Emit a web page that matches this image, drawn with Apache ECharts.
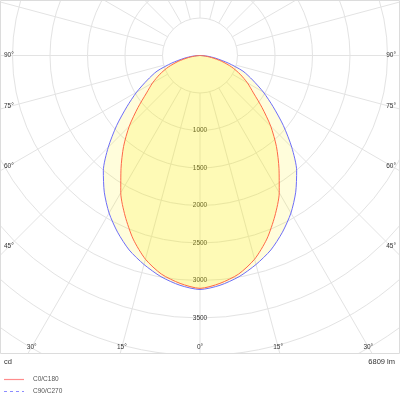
<!DOCTYPE html>
<html>
<head>
<meta charset="utf-8">
<script src="https://cdn.jsdelivr.net/npm/echarts@6/dist/echarts.min.js"></script>
<style>html,body{margin:0;padding:0;background:#fff}#c{width:400px;height:400px}</style>
</head>
<body>
<div id="c"></div>
<script>
// ---- data (angle from nadir in degrees, intensity in cd) ----
const gammaAngles = [0,5,10,15,20,25,30,35,40,45,50,55,60,65,70,75,80,85,90];
const c0c180 =  [3105,3050,2960,2812,2605,2362,2113,1836,1586,1334,1080,870,730,590,450,300,155,50,0];
const c90c270 = [3120,3075,2995,2885,2760,2600,2425,2225,2005,1730,1450,1190,975,775,610,390,215,95,0];
const radiusLabels = [1000,1500,2000,2500,3000,3500];
const angleTickLabels = [0,15,30,45,60,75,90];
const seriesNames = ['C0/C180','C90/C270'];
const unitText = 'cd';
const fluxText = '6809 lm';

// ---- layout ----
const CX = 200, CY = 55.5, R_MAX_CD = 5000, R_MAX_PX = 375, R_MIN_CD = 500;
const R_MIN_PX = R_MAX_PX * R_MIN_CD / R_MAX_CD;
const FONT = 'Liberation Sans, Arial, sans-serif';

function closedCurve(vals){
  const pts = [[0,180]];
  for (let i = vals.length-1; i >= 1; i--) pts.push([vals[i], 360 - gammaAngles[i]]);
  pts.push([vals[0], 0]);
  for (let i = 1; i < vals.length; i++) pts.push([vals[i], gammaAngles[i]]);
  pts.push([0,180]);
  return pts;
}

// angle labels placed where the radial rays meet the frame
const angleLabelEls = [];
angleTickLabels.forEach(a => {
  const sides = a === 0 ? [1] : [-1, 1];
  sides.forEach(s => {
    const rad = a*Math.PI/180;
    const dx = s*Math.sin(rad), dy = Math.cos(rad);
    const tSide = Math.abs(dx) > 1e-9 ? (CX - 9)/Math.abs(dx) : Infinity;
    const tBot = dy > 1e-9 ? (347 - CY)/dy : Infinity;
    const t = Math.min(tSide, tBot);
    let x = CX + t*dx, y = CY + t*dy, align = 'center';
    if (tSide < tBot) { x = s < 0 ? 4 : 396; align = s < 0 ? 'left' : 'right'; }
    angleLabelEls.push({type:'text', z:60, style:{text: a + '°', x, y, align, verticalAlign:'middle', fill:'#333', font:'6.5px ' + FONT}});
  });
});

// legend (drawn as decorations)
const legendStyles = [
  {color:'#ff8c8c', dash:null},
  {color:'#8c8cff', dash:[3,3]}
];
const legendEls = [];
seriesNames.forEach((n, i) => {
  const y = 379.5 + i*12;
  legendEls.push({type:'line', z:60, silent:true, shape:{x1:4, y1:y, x2:24, y2:y},
    style:{stroke:legendStyles[i].color, lineWidth:1.2, lineDash:legendStyles[i].dash}});
  legendEls.push({type:'text', z:60, silent:true, style:{text:n, x:33, y:y, verticalAlign:'middle', fill:'#555', font:'6.5px ' + FONT}});
});

const chart = echarts.init(document.getElementById('c'), null, {renderer:'canvas'});
chart.setOption({
  animation:false,
  backgroundColor:'#fff',
  polar:[
    {center:[CX,CY], radius:[R_MIN_PX, R_MAX_PX]},
    {center:[CX,CY], radius:[0, R_MAX_PX]}
  ],
  angleAxis:[
    {polarIndex:0, type:'value', min:0, max:360, interval:15, startAngle:270, clockwise:true,
     axisLine:{show:false}, axisTick:{show:false}, axisLabel:{show:false},
     splitLine:{show:true, lineStyle:{color:'#e3e3e3', width:1}}},
    {polarIndex:1, type:'value', min:0, max:360, startAngle:270, clockwise:true, show:false}
  ],
  radiusAxis:[
    {polarIndex:0, type:'value', min:R_MIN_CD, max:R_MAX_CD, interval:500,
     axisLine:{show:false}, axisTick:{show:false},
     splitLine:{show:true, lineStyle:{color:'#e3e3e3', width:1}},
     axisLabel:{show:true, margin:0, align:'center', verticalAlign:'middle', color:'#333', fontSize:6.5, fontFamily:FONT,
       formatter: v => radiusLabels.includes(v) ? String(v) : ''}},
    {polarIndex:1, type:'value', min:0, max:R_MAX_CD, show:false}
  ],
  series:[
    {name:seriesNames[1], type:'line', coordinateSystem:'polar', polarIndex:1, data:closedCurve(c90c270),
     symbol:'none', smooth:0.25, lineStyle:{color:'#6e6ef8', width:1},
     itemStyle:{color:'#9a9aff'}, areaStyle:{color:'rgba(255,238,0,0.2)'}, z:2},
    {name:seriesNames[0], type:'line', coordinateSystem:'polar', polarIndex:1, data:closedCurve(c0c180),
     symbol:'none', smooth:0.25, lineStyle:{color:'#ff6848', width:1},
     itemStyle:{color:'#ff9a9a'}, areaStyle:{color:'rgba(250,235,0,0.24)'}, z:3}
  ],
  graphic:[
    {type:'rect', z:50, silent:true, shape:{x:0, y:353.5, width:400, height:47}, style:{fill:'#fff'}},
    {type:'rect', z:51, silent:true, shape:{x:0.5, y:0.5, width:399, height:353}, style:{fill:'none', stroke:'#dcdcdc', lineWidth:1}},
    {type:'text', z:60, style:{text:unitText, x:4, y:362, verticalAlign:'middle', fill:'#333', font:'7.5px ' + FONT}},
    {type:'text', z:60, style:{text:fluxText, x:395, y:362, align:'right', verticalAlign:'middle', fill:'#333', font:'7.5px ' + FONT}},
    ...angleLabelEls,
    ...legendEls
  ]
});
</script>
</body>
</html>
